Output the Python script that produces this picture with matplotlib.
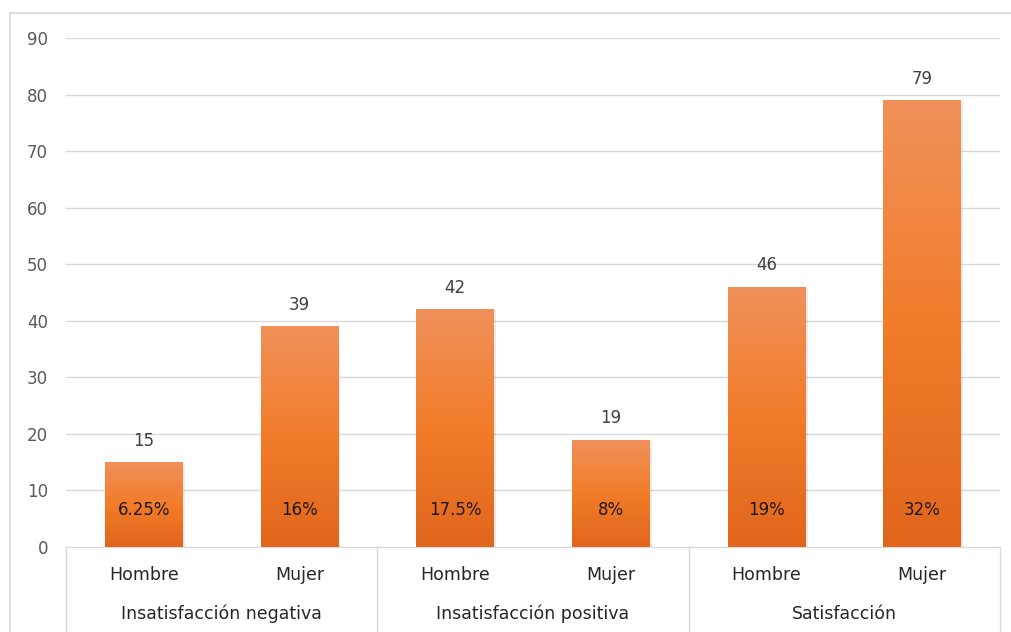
import numpy as np
import matplotlib
matplotlib.use('Agg')
import matplotlib.pyplot as plt
from matplotlib.colors import LinearSegmentedColormap
from matplotlib.lines import Line2D
import matplotlib.patheffects as pe

# data
groups = ['Insatisfacción negativa', 'Insatisfacción positiva', 'Satisfacción']
sexes = ['Hombre', 'Mujer']
values = [15, 39, 42, 19, 46, 79]
percents = ['6.25%', '16%', '17.5%', '8%', '19%', '32%']

plt.rcParams['font.family'] = ['DejaVu Sans']
fig = plt.figure(figsize=(10.12, 6.32), dpi=100)
ax = fig.add_axes([66 / 1012, 1 - 547 / 632, (1000 - 66) / 1012, (547 - 38) / 632])

grad_cmap = LinearSegmentedColormap.from_list(
    'orange', [(0, '#E0661C'), (0.5, '#F27C2A'), (1, '#F0915A')])
grad = np.linspace(0, 1, 256).reshape(-1, 1)

x = np.arange(len(values))
bars = ax.bar(x, values, width=0.5, color='#EE7A2C', zorder=2,
              path_effects=[pe.SimplePatchShadow(offset=(1.5, -1), shadow_rgbFace='#000000', alpha=0.08),
                            pe.Normal()])
for b in bars:
    x0 = b.get_x()
    im = ax.imshow(grad, extent=(x0, x0 + b.get_width(), 0, b.get_height()),
                   origin='lower', cmap=grad_cmap, aspect='auto', zorder=3)
    im.set_clip_path(b)

for xi, v, p in zip(x, values, percents):
    ax.annotate(str(v), (xi, v), xytext=(0, 9), textcoords='offset points',
                ha='center', va='bottom', fontsize=12, color='#404040')
    ax.text(xi, 6.5, p, ha='center', va='center', fontsize=12, color='#1f1a17', zorder=4)

ax.set_xlim(-0.5, len(values) - 0.5)
ax.set_ylim(0, 90)
ax.set_yticks(np.arange(0, 91, 10))
ax.yaxis.grid(True, color='#D9D9D9', lw=1)
ax.set_axisbelow(True)
ax.tick_params(axis='y', length=0, pad=13, labelsize=12, labelcolor='#595959')
ax.set_xticks([])
for s in ['top', 'right', 'left']:
    ax.spines[s].set_visible(False)
ax.spines['bottom'].set_color('#D9D9D9')

# two-level category axis
trans = ax.get_xaxis_transform()
for i, s in enumerate(sexes * len(groups)):
    ax.text(i, -0.055, s, transform=trans, ha='center', va='center',
            fontsize=12.5, color='#262626')
for g, name in enumerate(groups):
    ax.text(2 * g + 0.5, -0.131, name, transform=trans, ha='center', va='center',
            fontsize=12.5, color='#262626')
for xs in [-0.5, 1.5, 3.5, 5.5]:
    ax.plot([xs, xs], [0, -0.17], transform=trans, color='#D9D9D9', lw=1, clip_on=False)

# chart border
fig.add_artist(Line2D([10 / 1012, 10 / 1012], [0, 1 - 13 / 632], color='#D9D9D9', lw=1.2))
fig.add_artist(Line2D([10 / 1012, 1], [1 - 13 / 632, 1 - 13 / 632], color='#D9D9D9', lw=1.2))

fig.savefig('out.png', dpi=100)
